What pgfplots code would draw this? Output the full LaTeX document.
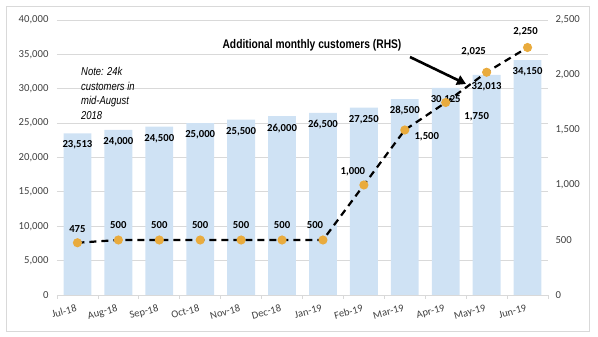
\documentclass[border=0pt]{standalone}
\usepackage{pgfplots}
\pgfplotsset{compat=1.18}
\usepackage{pgfplotstable}
\usepackage{fontspec}
\setmainfont{Carlito}
\newfontfamily\narrowfont[FakeStretch=0.82]{Liberation Sans}
\usetikzlibrary{arrows.meta}
\definecolor{barblue}{RGB}{207,226,244}
\definecolor{markor}{RGB}{233,171,61}
\definecolor{gridg}{RGB}{217,217,217}
\definecolor{ticktxt}{RGB}{64,64,64}

\pgfplotstableread{
x bar
0 23513
1 24000
2 24500
3 25000
4 25500
5 26000
6 26500
7 27250
8 28500
9 30125
10 32013
11 34150
}\bartable

\pgfplotstableread{
x add dx dy
0 475 0 14
1 500 0 15
2 500 0 15
3 500 0 15
4 500 0 15
5 500 0 15
6 500 -8 15
7 1000 -11 13
8 1500 22 -7
9 1750 31 -14
10 2025 -13 21
11 2250 -2 16
}\linetable

\begin{document}
\begin{tikzpicture}
\path[use as bounding box] (0pt,0pt) rectangle (598pt,337pt);
\draw[gridg, line width=0.8pt] (6pt,6pt) rectangle (589pt,331pt);

\begin{axis}[
  at={(57pt,42pt)}, anchor=south west,
  scale only axis, width=491pt, height=275pt,
  xmin=-0.5, xmax=11.5, ymin=0, ymax=40000,
  axis line style={draw=none},
  axis x line*=bottom,
  ytick={0,5000,...,40000},
  ymajorgrids, grid style={gridg, line width=0.8pt},
  major tick length=0pt,
  xtick={0,...,11},
  xticklabels={Jul-18,Aug-18,Sep-18,Oct-18,Nov-18,Dec-18,Jan-19,Feb-19,Mar-19,Apr-19,May-19,Jun-19},
  minor xtick={-0.5,0.5,...,11.5},
  minor tick length=4pt,
  tick align=outside,
  minor tick style={gridg, line width=0.8pt},
  xticklabel style={font=\fontsize{10.5}{12}\selectfont, text=ticktxt, rotate=15, anchor=north east, xshift=-1pt, yshift=-5pt},
  yticklabel style={font=\fontsize{10.7}{12}\selectfont, text=ticktxt, xshift=-5pt},
  scaled y ticks=false,
  /pgf/number format/assume math mode=true,
  yticklabel={\pgfmathprintnumber[fixed,1000 sep={,}]{\tick}},
  clip=false,
]
\draw[gridg, line width=0.8pt] (axis cs:-0.5,0) -- (axis cs:11.5,0);
\addplot[ybar, bar width=0.68, fill=barblue, draw=none,
  nodes near coords={\pgfmathprintnumber[fixed,1000 sep={,}]{\pgfplotspointmeta}},
  point meta=explicit,
  every node near coord/.append style={font=\bfseries\fontsize{10.7}{12}\selectfont, anchor=north, yshift=-4pt, text=black}]
  table[x=x, y=bar, meta=bar] {\bartable};
\end{axis}

\begin{axis}[
  at={(57pt,42pt)}, anchor=south west,
  scale only axis, width=491pt, height=275pt,
  xmin=-0.5, xmax=11.5, ymin=0, ymax=2500,
  axis line style={draw=none},
  axis y line*=right,
  axis x line=none,
  ytick={0,500,...,2500},
  major tick length=0pt,
  yticklabel style={font=\fontsize{10.7}{12}\selectfont, text=ticktxt, xshift=4pt},
  /pgf/number format/assume math mode=true,
  yticklabel={\pgfmathprintnumber[fixed,1000 sep={,}]{\tick}},
  clip=false,
]
\addplot[black, line width=2.2pt, dash pattern=on 7pt off 5pt,
  mark=*, mark size=3.4pt, mark options={solid, fill=markor, draw=markor},
  visualization depends on={\thisrow{dx} \as \dx},
  visualization depends on={\thisrow{dy} \as \dy},
  nodes near coords={\pgfmathprintnumber[fixed,1000 sep={,}]{\pgfplotspointmeta}},
  point meta=explicit,
  every node near coord/.append style={font=\bfseries\fontsize{10.7}{12}\selectfont, anchor=center, text=black, xshift=\dx pt, yshift=\dy pt}]
  table[x=x, y=add, meta=add] {\linetable};
\end{axis}

\node[font=\narrowfont\bfseries\fontsize{12.5}{14}\selectfont, anchor=center] at (312pt,292pt) {Additional monthly customers (RHS)};
\draw[line width=2.6pt, -{Triangle[length=9pt,width=10pt]}] (410pt,280pt) -- (466pt,253pt);
\node[font=\narrowfont\itshape\fontsize{11.5}{14.7}\selectfont, align=left, anchor=north west, inner sep=0pt] at (81pt,270pt) {Note: 24k\\customers in\\mid-August\\2018};
\end{tikzpicture}
\end{document}
